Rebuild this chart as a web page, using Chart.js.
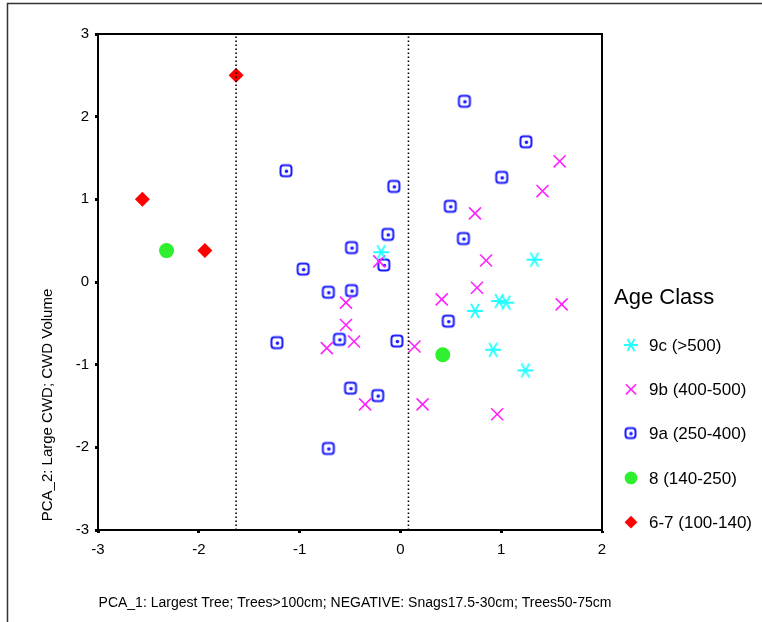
<!DOCTYPE html>
<html>
<head>
<meta charset="utf-8">
<title>PCA age classes</title>
<script src="https://cdn.jsdelivr.net/npm/chart.js@4.4.1/dist/chart.umd.min.js"></script>
<style>
  html, body { margin: 0; padding: 0; background: #fff; }
  #wrap { position: relative; width: 762px; height: 622px; }
</style>
</head>
<body>
<div id="wrap"><canvas id="pcaChart"></canvas></div>
<script>
// --- Data: PCA scores per age class, [PCA_1, PCA_2] ---
const classNames = ["9c (>500)", "9b (400-500)", "9a (250-400)", "8 (140-250)", "6-7 (100-140)"];

const age9c = [
  [-0.19, 0.36], [1.33, 0.27], [0.98, -0.23], [1.05, -0.25],
  [0.74, -0.35], [0.92, -0.82], [1.24, -1.07]
];
const age9b = [
  [1.58, 1.46], [1.41, 1.10], [0.74, 0.83], [0.85, 0.26], [-0.21, 0.25],
  [0.76, -0.07], [0.41, -0.21], [1.60, -0.27], [-0.54, -0.25], [-0.54, -0.52],
  [-0.46, -0.72], [-0.73, -0.80], [0.14, -0.78], [-0.35, -1.48], [0.22, -1.48],
  [0.96, -1.60]
];
const age9a = [
  [-1.13, 1.34], [-0.06, 1.15], [-0.12, 0.57], [-0.48, 0.41], [-0.16, 0.20],
  [-0.96, 0.15], [-0.71, -0.13], [-0.48, -0.11], [0.64, 2.18], [1.25, 1.69],
  [1.01, 1.26], [0.50, 0.91], [0.63, 0.52], [0.48, -0.48], [-0.60, -0.70],
  [-1.22, -0.74], [-0.03, -0.72], [-0.49, -1.29], [-0.22, -1.38], [-0.71, -2.02]
];
const age8 = [[-2.32, 0.38], [0.42, -0.88]];
const age67 = [[-1.63, 2.50], [-2.56, 1.00], [-1.94, 0.38]];

// dotted reference lines on PCA_1
const splitLines = [-1.63, 0.08];

const xTicks = [-3, -2, -1, 0, 1, 2];
const yTicks = [-3, -2, -1, 0, 1, 2, 3];

const FONT = "'Liberation Sans', Arial, sans-serif";

// --- Custom marker images ---
function asterisk(color, r) {
  const c = document.createElement("canvas");
  c.width = c.height = 2 * r + 4;
  const g = c.getContext("2d");
  const m = r + 2;
  g.strokeStyle = color;
  g.lineWidth = 1.8;
  g.beginPath();
  [0, 60, 120].forEach(function (a) {
    const t = a * Math.PI / 180;
    g.moveTo(m - r * Math.cos(t), m - r * Math.sin(t));
    g.lineTo(m + r * Math.cos(t), m + r * Math.sin(t));
  });
  g.stroke();
  return c;
}

function dotSquare(color, size) {
  const c = document.createElement("canvas");
  c.width = c.height = size + 4;
  const g = c.getContext("2d");
  const o = 3;
  const s = size - 2;
  g.strokeStyle = color;
  g.lineWidth = 2;
  g.beginPath();
  g.roundRect(o - 0.5, o - 0.5, s, s, 3);
  g.stroke();
  g.fillStyle = color;
  g.beginPath();
  g.arc(c.width / 2, c.height / 2, 1.8, 0, Math.PI * 2);
  g.fill();
  return c;
}

const toPts = arr => arr.map(p => ({ x: p[0], y: p[1] }));

const styles = [
  { color: "#22ffff", pointStyle: asterisk("#22ffff", 8), legendStyle: asterisk("#22ffff", 7), radius: 8, borderWidth: 1.8 },
  { color: "#ff22ff", pointStyle: "crossRot", radius: 8.5, borderWidth: 1.6 },
  { color: "#1a1aff", pointStyle: dotSquare("#1a1aff", 13), legendStyle: dotSquare("#1a1aff", 12), radius: 7, borderWidth: 2 },
  { color: "#2ef02e", pointStyle: "circle", radius: 7.5, borderWidth: 0 },
  { color: "#ff0000", pointStyle: "rectRot", radius: 7.5, borderWidth: 0 }
];
const series = [age9c, age9b, age9a, age8, age67];

const pointSets = series.map((arr, i) => ({
  type: "scatter",
  label: classNames[i],
  data: toPts(arr),
  pointStyle: styles[i].pointStyle,
  pointRadius: styles[i].radius,
  pointHoverRadius: styles[i].radius,
  pointBorderWidth: styles[i].borderWidth,
  borderColor: styles[i].color,
  backgroundColor: styles[i].color
}));

const lineSets = splitLines.map(v => ({
  type: "line",
  label: "split",
  data: [{ x: v, y: -3 }, { x: v, y: 3 }],
  borderColor: "#000",
  borderWidth: 1.6,
  borderDash: [1.5, 2.5],
  pointRadius: 0,
  fill: false
}));

// frame, axis titles and legend
const decorations = {
  id: "decorations",
  afterDraw(chart) {
    const ctx = chart.ctx;
    const a = chart.chartArea;
    ctx.save();

    // outer figure edge
    ctx.strokeStyle = "#333";
    ctx.lineWidth = 1.5;
    ctx.beginPath();
    ctx.moveTo(7.5, 622);
    ctx.lineTo(7.5, 3.5);
    ctx.lineTo(762, 3.5);
    ctx.stroke();

    // plot box
    ctx.strokeStyle = "#000";
    ctx.lineWidth = 2;
    ctx.strokeRect(a.left, a.top, a.right - a.left, a.bottom - a.top);

    // axis titles
    ctx.fillStyle = "#000";
    ctx.font = "14px " + FONT;
    ctx.textAlign = "center";
    ctx.textBaseline = "middle";
    ctx.fillText("PCA_1: Largest Tree; Trees>100cm; NEGATIVE: Snags17.5-30cm; Trees50-75cm", 355, 603);
    ctx.save();
    ctx.translate(48, 405);
    ctx.rotate(-Math.PI / 2);
    ctx.font = "15px " + FONT;
    ctx.fillText("PCA_2: Large CWD; CWD Volume", 0, 0);
    ctx.restore();

    // legend
    ctx.textAlign = "left";
    ctx.font = "22px " + FONT;
    ctx.fillText("Age Class", 614, 298);
    ctx.font = "17px " + FONT;
    classNames.forEach(function (name, i) {
      const y = 345 + i * 44.3;
      const st = styles[i];
      ctx.fillStyle = st.color;
      ctx.strokeStyle = st.color;
      ctx.lineWidth = st.borderWidth || 1;
      Chart.helpers.drawPoint(ctx, {
        pointStyle: st.legendStyle || st.pointStyle,
        radius: st.radius * 0.85,
        rotation: 0,
        borderWidth: st.borderWidth
      }, 631, y);
      ctx.fillStyle = "#000";
      ctx.fillText(name, 649, y + 1);
    });
    ctx.restore();
  }
};

new Chart(document.getElementById("pcaChart"), {
  data: { datasets: lineSets.concat(pointSets) },
  options: {
    responsive: true,
    maintainAspectRatio: false,
    animation: false,
    layout: { padding: { left: 0, right: 160, top: 34, bottom: 0 } },
    plugins: {
      legend: { display: false },
      tooltip: { enabled: false }
    },
    scales: {
      x: {
        type: "linear",
        min: xTicks[0],
        max: xTicks[xTicks.length - 1],
        afterBuildTicks: s => { s.ticks = xTicks.map(v => ({ value: v })); },
        afterFit: s => { s.height = 92; },
        grid: { drawOnChartArea: false, tickLength: 3, tickWidth: 3, color: "#000" },
        border: { display: true, color: "#000", width: 2 },
        ticks: { color: "#000", font: { size: 15, family: FONT }, padding: 8, maxRotation: 0 }
      },
      y: {
        type: "linear",
        min: yTicks[0],
        max: yTicks[yTicks.length - 1],
        afterBuildTicks: s => { s.ticks = yTicks.map(v => ({ value: v })); },
        afterFit: s => { s.width = 98; },
        grid: { drawOnChartArea: false, tickLength: 3, tickWidth: 3, color: "#000" },
        border: { display: true, color: "#000", width: 2 },
        ticks: { color: "#000", font: { size: 15, family: FONT }, padding: 6 }
      }
    }
  },
  plugins: [decorations]
});
</script>
</body>
</html>
